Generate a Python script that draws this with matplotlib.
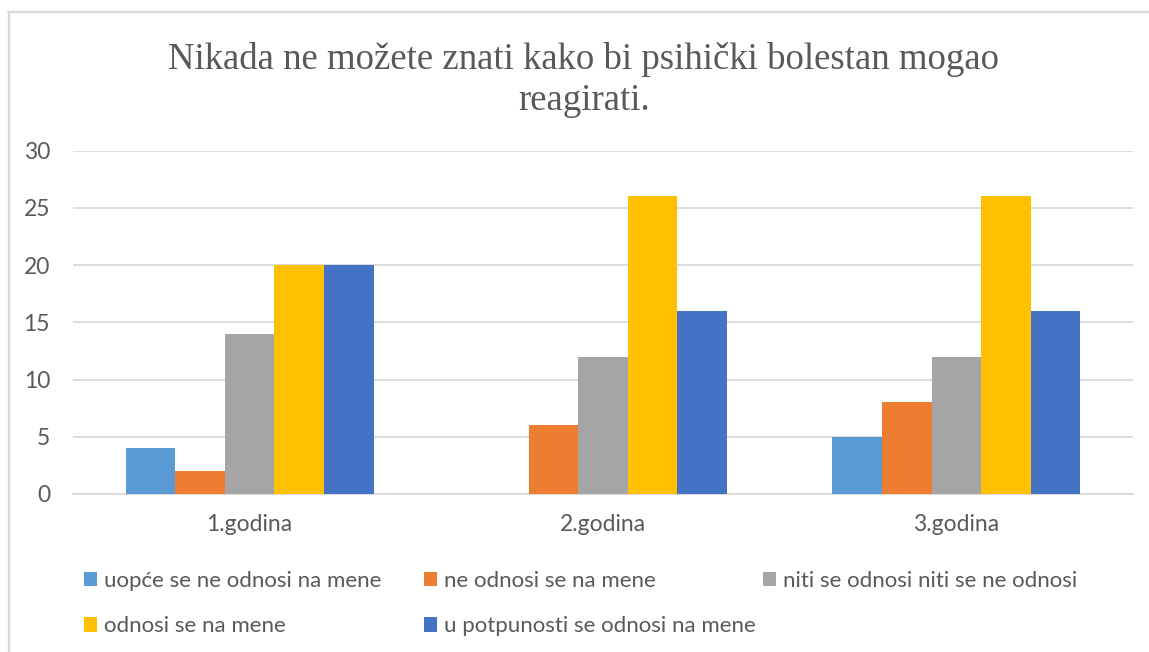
import matplotlib
matplotlib.use("Agg")
import matplotlib.pyplot as plt
from matplotlib.patches import Patch
from matplotlib.lines import Line2D
import numpy as np

categories = ["1.godina", "2.godina", "3.godina"]
series_names = [
    "uopće se ne odnosi na mene",
    "ne odnosi se na mene",
    "niti se odnosi niti se ne odnosi",
    "odnosi se na mene",
    "u potpunosti se odnosi na mene",
]
values_uopce = [4, 0, 5]
values_ne = [2, 6, 8]
values_niti = [14, 12, 12]
values_odnosi = [20, 26, 26]
values_potpuno = [20, 16, 16]
series_values = [values_uopce, values_ne, values_niti, values_odnosi, values_potpuno]
colors = ["#5B9BD5", "#ED7D31", "#A5A5A5", "#FFC000", "#4472C4"]
title = "Nikada ne možete znati kako bi psihički bolestan mogao\nreagirati."
yticks = [0, 5, 10, 15, 20, 25, 30]

W, H = 1149, 652
fig = plt.figure(figsize=(W / 100, H / 100), dpi=100)
ax = fig.add_axes([73 / W, 1 - 494 / H, (1133 - 73) / W, (494 - 150.7) / H])

text_color = "#595959"
sans = ["Lato", "DejaVu Sans"]

x = np.arange(len(categories))
bw = 0.1405
n = len(series_values)
for i, (vals, c, name) in enumerate(zip(series_values, colors, series_names)):
    ax.bar(x + (i - (n - 1) / 2) * bw, vals, width=bw, color=c, label=name, zorder=3)

ax.set_xlim(-0.5, len(categories) - 0.5)
ax.set_ylim(0, 30)
ax.set_yticks(yticks)
ax.set_xticks(x)
ax.set_xticklabels(categories)
ax.grid(axis="y", color="#D9D9D9", linewidth=1.3, zorder=0)
for s in ["top", "right", "left"]:
    ax.spines[s].set_visible(False)
ax.spines["bottom"].set_color("#D9D9D9")
ax.spines["bottom"].set_linewidth(1.3)
ax.tick_params(axis="both", length=0, colors=text_color, labelsize=16.5)
ax.tick_params(axis="y", pad=16.5)
ax.tick_params(axis="x", pad=14.5)
for lab in ax.get_xticklabels() + ax.get_yticklabels():
    lab.set_family(sans)

fig.text(584 / W, 1 - 80 / H, title, ha="center", va="center", multialignment="center",
         family=["Liberation Serif", "DejaVu Serif"],
         fontsize=26.5, color=text_color, linespacing=1.27)

# legend: three columns with fixed positions
handles = [Patch(facecolor=c, edgecolor="none") for c in colors]
cols = [[0, 3], [1, 4], [2]]
col_x = [84, 424, 763]
for cx, idxs in zip(col_x, cols):
    fig.legend([handles[k] for k in idxs], [series_names[k] for k in idxs],
               loc="upper left", bbox_to_anchor=(cx / W, 1 - 571 / H),
               frameon=False, prop={"family": sans, "size": 16},
               labelcolor=text_color, handlelength=0.6, handleheight=0.6,
               handletextpad=0.32, labelspacing=1.14, borderaxespad=0, borderpad=0)

# outer chart border (top and left visible)
fig.add_artist(Line2D([8 / W, 1], [1 - 12 / H, 1 - 12 / H], color="#D9D9D9", lw=1.6))
fig.add_artist(Line2D([9 / W, 9 / W], [0, 1 - 12 / H], color="#D9D9D9", lw=1.6))

fig.savefig("out.png", dpi=100)
